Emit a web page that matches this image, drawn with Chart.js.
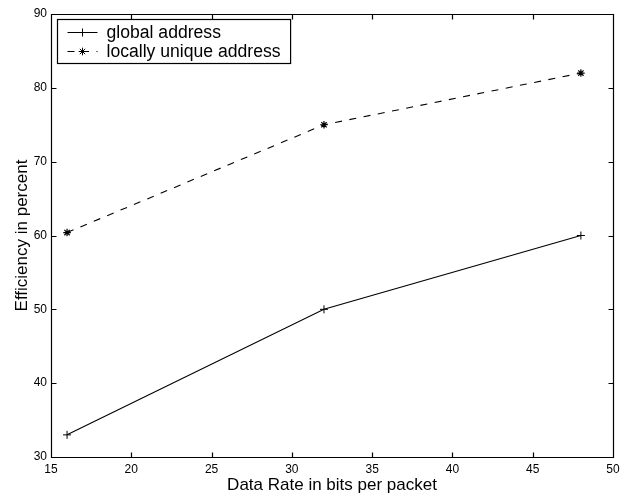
<!DOCTYPE html>
<html><head><meta charset="utf-8">
<script src="https://cdn.jsdelivr.net/npm/chart.js@4"></script>
<style>html,body{margin:0;padding:0;background:#fff}#wrap{width:630px;height:496px}</style>
</head><body><div id="wrap"><canvas id="c" width="630" height="496"></canvas></div>
<script>
const dataRates = [16, 32, 48];
const globalAddress = [33, 50, 60];
const locallyUnique = [60.4, 75, 82];
const xTicks = [15, 20, 25, 30, 35, 40, 45, 50];
const yTicks = [30, 40, 50, 60, 70, 80, 90];
const seriesLabels = ['global address', 'locally unique address'];
const xTitle = 'Data Rate in bits per packet';
const yTitle = 'Efficiency in percent';

const FONT = '"Liberation Sans", Arial, Helvetica, sans-serif';

const framePlugin = {
  id: 'frame',
  afterDatasetsDraw(chart) {
    const ctx = chart.ctx, a = chart.chartArea;
    const xs = chart.scales.x, ys = chart.scales.y;
    const L = Math.round(a.left) + 0.5, R = Math.round(a.right) + 0.5;
    const T = Math.round(a.top) + 0.5, B = Math.round(a.bottom) + 0.5;
    const tl = 5;
    ctx.save();
    ctx.strokeStyle = '#000';
    ctx.lineWidth = 1.2;
    ctx.beginPath();
    ctx.rect(L, T, R - L, B - T);
    xs.ticks.forEach(t => {
      const px = Math.round(xs.getPixelForValue(t.value)) + 0.5;
      ctx.moveTo(px, B); ctx.lineTo(px, B - tl);
      ctx.moveTo(px, T); ctx.lineTo(px, T + tl);
    });
    ys.ticks.forEach(t => {
      const py = Math.round(ys.getPixelForValue(t.value)) + 0.5;
      ctx.moveTo(L, py); ctx.lineTo(L + tl, py);
      ctx.moveTo(R, py); ctx.lineTo(R - tl, py);
    });
    ctx.stroke();
    ctx.restore();
  }
};

const legendPlugin = {
  id: 'boxLegend',
  afterDraw(chart) {
    const ctx = chart.ctx, a = chart.chartArea;
    const x0 = Math.round(a.left) + 6.5, y0 = Math.round(a.top) + 5.5;
    const fs = 17.6;
    ctx.save();
    ctx.font = fs + 'px ' + FONT;
    const ds = chart.data.datasets;
    let maxW = 0;
    ds.forEach(d => { maxW = Math.max(maxW, ctx.measureText(d.label).width); });
    const textX = x0 + 49;
    const w = textX - x0 + maxW + 10;
    const h = 44;
    ctx.fillStyle = '#fff';
    ctx.fillRect(x0, y0, w, h);
    ctx.strokeStyle = '#000';
    ctx.lineWidth = 1.2;
    ctx.strokeRect(x0, y0, w, h);
    ds.forEach((d, i) => {
      const cy = y0 + 13 + i * 19;
      ctx.beginPath();
      ctx.lineWidth = 1;
      ctx.setLineDash(d.borderDash || []);
      ctx.moveTo(x0 + 10, cy); ctx.lineTo(x0 + 40, cy);
      ctx.stroke();
      ctx.setLineDash([]);
      Chart.helpers.drawPoint(ctx, {pointStyle: d.pointStyle, radius: d.pointRadius, borderWidth: 1, rotation: 0}, x0 + 25, cy);
      ctx.fillStyle = '#000';
      ctx.textBaseline = 'middle';
      ctx.textAlign = 'left';
      ctx.fillText(d.label, textX, cy + 1);
    });
    ctx.restore();
  }
};

const mk = (arr) => dataRates.map((x, i) => ({x, y: arr[i]}));

new Chart(document.getElementById('c'), {
  type: 'line',
  data: {
    datasets: [
      {label: seriesLabels[0], data: mk(globalAddress), borderColor: '#000', backgroundColor: '#000',
       borderWidth: 1.1, pointStyle: 'cross', pointRadius: 4, pointBorderWidth: 1, pointBorderColor: '#000', tension: 0, fill: false},
      {label: seriesLabels[1], data: mk(locallyUnique), borderColor: '#000', backgroundColor: '#000',
       borderWidth: 1.1, borderDash: [7, 7.5], pointStyle: 'star', pointRadius: 3.8, pointBorderWidth: 1.2, pointBorderColor: '#000', tension: 0, fill: false}
    ]
  },
  options: {
    responsive: false,
    animation: false,
    devicePixelRatio: 1,
    layout: {padding: {left: 0, top: 14, right: 17, bottom: 0}},
    plugins: {legend: {display: false}, tooltip: {enabled: false}},
    scales: {
      x: {
        type: 'linear', min: 15, max: 50,
        afterBuildTicks: s => { s.ticks = xTicks.map(v => ({value: v})); },
        afterFit: s => { s.height = 39; },
        grid: {display: false, drawTicks: false},
        border: {display: false},
        ticks: {padding: 5, color: '#000', font: {family: FONT, size: 12}, maxRotation: 0, autoSkip: false},
        title: {display: true, text: xTitle, color: '#000', font: {family: FONT, size: 17}, padding: {top: 0, bottom: 0}}
      },
      y: {
        type: 'linear', min: 30, max: 90,
        afterBuildTicks: s => { s.ticks = yTicks.map(v => ({value: v})); },
        afterFit: s => { s.width = 51; },
        grid: {display: false, drawTicks: false},
        border: {display: false},
        ticks: {padding: 4, color: '#000', font: {family: FONT, size: 12}, autoSkip: false},
        title: {display: true, text: yTitle, color: '#000', font: {family: FONT, size: 17}, padding: {top: 12, bottom: 0}}
      }
    }
  },
  plugins: [framePlugin, legendPlugin]
});
</script>
</body></html>
